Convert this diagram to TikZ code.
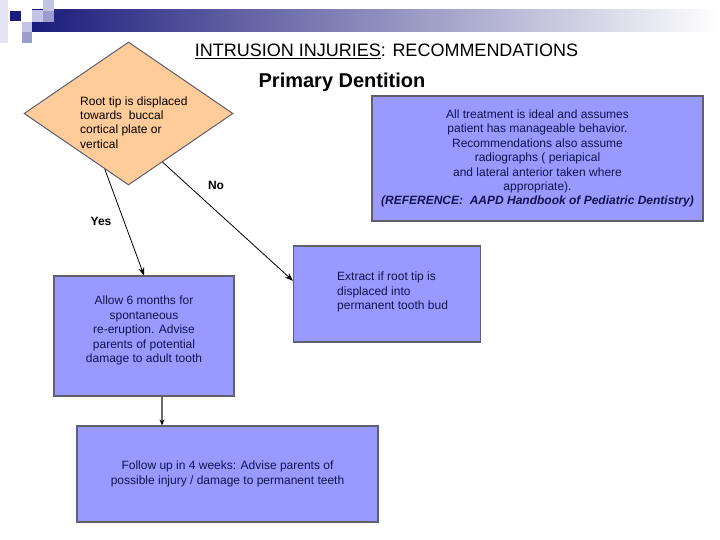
\documentclass[tikz,border=0pt]{standalone}
\usepackage{fontspec}
\setmainfont{Liberation Sans}
\usetikzlibrary{shapes.geometric,arrows.meta}
\definecolor{Lavanda}{HTML}{9999FF}
\definecolor{Melocoton}{HTML}{FFCC99}
\definecolor{Borde}{HTML}{5F5F6F}
\definecolor{Marino}{HTML}{14144E}
\definecolor{Azul}{HTML}{1C1C7C}
\definecolor{Lila}{HTML}{C4C4E6}
\definecolor{LilaOsc}{HTML}{9C9CCE}
\definecolor{LilaPal}{HTML}{E4E4F4}

\begin{document}
\begin{tikzpicture}[x=1pt,y=-1pt,
    every node/.style={font=\fontsize{12}{14.4}\selectfont,inner sep=0pt},
    decision/.style={diamond,draw=Borde,line width=1pt,fill=Melocoton,minimum width=209pt,minimum height=143pt},
    box/.style={draw=Borde,line width=1.2pt,fill=Lavanda},
    txt/.style={text=Marino,align=center},
    answer/.style={font=\fontsize{12}{14.4}\selectfont\bfseries},
    flow/.style={draw=black,line width=0.8pt,-{Stealth[length=8pt,width=6pt]}}
  ]
    \useasboundingbox (0,0) rectangle (720,540);
    % cabecera
    \fill[LilaPal] (0,0) rectangle (8,43);
    \shade[left color=Azul,right color=white] (32,10) rectangle (720,32);
    \fill[Azul] (10,11) rectangle (21,21);
    \fill[Lila] (32,10) rectangle (43,22);
    \fill[Lila] (43,0) rectangle (54,11);
    \fill[LilaOsc] (43,11) rectangle (54,22);
    \fill[Lila] (22,22) rectangle (32,32);
    \fill[LilaOsc] (22,32) rectangle (32,43);
    \node[font=\fontsize{18}{21.6}\selectfont,anchor=base] (title) at (386.5,57) {\underline{INTRUSION INJURIES}: RECOMMENDATIONS};
    \node[font=\fontsize{20}{24}\selectfont\bfseries,anchor=base] (sub) at (342,88) {Primary Dentition};
    % diagrama
    \node[decision] (q) at (128.5,113.5) {};
    \node[anchor=north west,align=left] (qtxt) at (80,96.2) {Root tip is displaced\\towards~ buccal\\cortical plate or\\vertical};
    \node[box,txt,minimum width=331pt,minimum height=125pt] (note) at (537.5,158.5) {All treatment is ideal and assumes\\patient has manageable behavior.\\ Recommendations also assume\\radiographs ( periapical\\and lateral anterior taken where\\appropriate).\\\textbf{\textit{(REFERENCE:~ AAPD Handbook of Pediatric Dentistry)}}};
    \node[box,minimum width=180pt,minimum height=120pt] (allow) at (144,336) {};
    \node[txt] (allowtxt) at (144,330.5) {Allow 6 months for\\spontaneous\\re-eruption. Advise\\parents of potential\\damage to adult tooth};
    \node[box,minimum width=187pt,minimum height=96pt] (extract) at (387,294) {};
    \node[txt,align=left,anchor=west] (extracttxt) at (337,292) {Extract if root tip is\\displaced into\\permanent tooth bud};
    \node[box,txt,minimum width=301pt,minimum height=96pt] (follow) at (227.5,474) {Follow up in 4 weeks: Advise parents of\\possible injury / damage to permanent teeth};
    \node[answer] (no) at (216,185) {No};
    \node[answer] (yes) at (101,221) {Yes};
    \draw[flow] (q.-113) -- (allow.north);
    \draw[flow] (q.-55) -- (extract.172);
    \draw[draw=gray!85!black,line width=1.5pt,-{Stealth[length=6pt,width=5pt,color=black]}] ([xshift=18pt]allow.south) -- ([xshift=18pt]allow.south |- follow.north);
\end{tikzpicture}
\end{document}
